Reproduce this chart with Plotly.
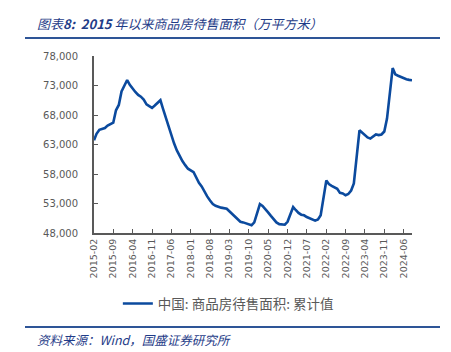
import plotly.graph_objects as go
import pandas as pd

# ---- data (万平方米), monthly, January not published ----
years = list(range(2015, 2025))
months_feb_dec = [2, 3, 4, 5, 6, 7, 8, 9, 10, 11, 12]
v2015 = [63700, 64800, 65500, 65700, 65800, 66200, 66400, 66700, 68800, 69700, 72000]
v2016 = [73930, 73100, 72400, 71900, 71400, 71100, 70600, 69800, 69500, 69200, 69600]
v2017 = [70500, 69100, 67600, 66000, 64400, 63200, 62000, 61000, 60200, 59500, 58900]
v2018 = [58300, 57300, 56500, 55900, 55000, 54200, 53500, 52900, 52600, 52400, 52300]
v2019 = [52100, 51700, 51300, 50800, 50300, 49900, 49800, 49600, 49400, 49300, 49800]
v2020 = [52900, 52600, 52100, 51500, 50900, 50300, 49800, 49500, 49400, 49400, 49900]
v2021 = [52400, 51900, 51400, 51100, 51000, 50700, 50500, 50200, 50100, 50300, 51000]
v2022 = [56900, 56300, 56000, 55800, 55500, 54800, 54700, 54400, 54600, 55200, 56400]
v2023 = [65400, 65000, 64600, 64200, 64000, 64300, 64700, 64600, 64700, 65200, 67400]
v2024 = [75950, 74900, 74650, 74450, 74200, 74050, 73950, 73900]

yearly = [v2015, v2016, v2017, v2018, v2019, v2020, v2021, v2022, v2023, v2024]

tick_labels = ["2015-02", "2015-09", "2016-04", "2016-11", "2017-06", "2018-01",
               "2018-08", "2019-03", "2019-10", "2020-05", "2020-12", "2021-07",
               "2022-02", "2022-09", "2023-04", "2023-11", "2024-06"]
y_ticks = [48000, 53000, 58000, 63000, 68000, 73000, 78000]

series_name = "中国: 商品房待售面积: 累计值"
title_prefix = "图表"
title_bold = "8:  2015"
title_rest = " 年以来商品房待售面积（万平方米）"
source_text = "资料来源：Wind，国盛证券研究所"

dates, values = [], []
for y, vals in zip(years, yearly):
    for m, v in zip(months_feb_dec, vals):
        dates.append(pd.Timestamp(year=y, month=m, day=1))
        values.append(v)

tick_vals = [pd.Timestamp(t + "-01") for t in tick_labels]

W, H = 451, 352
L, R, T, B = 94, 39, 56, 119

fig = go.Figure()
fig.add_trace(go.Scatter(
    x=dates, y=values, mode="lines", name=series_name,
    line=dict(color="#0B4A9E", width=2.6),
))

axis_col = "#595959"
fig.update_layout(
    width=W, height=H,
    margin=dict(l=L, r=R, t=T, b=B, pad=0),
    paper_bgcolor="white", plot_bgcolor="white",
    font=dict(family="DejaVu Sans", color=axis_col),
    showlegend=True,
    legend=dict(
        orientation="h", x=0.075, y=-0.40, xanchor="left", yanchor="middle",
        font=dict(family="Noto Sans CJK SC", size=13.5, color=axis_col),
        bgcolor="rgba(0,0,0,0)", itemwidth=30,
    ),
    xaxis=dict(
        type="date",
        range=[pd.Timestamp("2015-02-01"), pd.Timestamp("2024-09-01")],
        tickmode="array", tickvals=tick_vals, ticktext=tick_labels,
        tickangle=-90, ticks="inside", ticklen=4, tickwidth=1.2, tickcolor=axis_col,
        showline=True, linecolor=axis_col, linewidth=1.8,
        showgrid=False, zeroline=False,
        tickfont=dict(family="DejaVu Sans", size=9.5, color=axis_col),
    ),
    yaxis=dict(
        range=[48000, 78000], tickmode="array", tickvals=y_ticks,
        tickformat=",.0f",
        ticks="inside", ticklen=4, tickwidth=1.2, tickcolor=axis_col,
        showline=True, linecolor=axis_col, linewidth=1.8,
        showgrid=False, zeroline=False,
        tickfont=dict(family="DejaVu Sans", size=10, color=axis_col),
        ticklabelstandoff=12,
    ),
)

def px_x(x):
    return (x - L) / (W - L - R)

def px_y(y):
    return (H - B - y) / (H - T - B)

# title
fig.add_annotation(
    xref="paper", yref="paper", x=px_x(35), y=px_y(24),
    xanchor="left", yanchor="middle", showarrow=False,
    text="<i>" + title_prefix + "<b>" + title_bold + "</b>" + title_rest + "</i>",
    font=dict(family="Noto Sans CJK SC", size=13, color="#1F3C88"),
)
# source
fig.add_annotation(
    xref="paper", yref="paper", x=px_x(35), y=px_y(339),
    xanchor="left", yanchor="middle", showarrow=False,
    text="<i>" + source_text + "</i>",
    font=dict(family="Noto Sans CJK SC", size=12.5, color="#1F3C88"),
)
# separator lines
for yy in (38, 327):
    fig.add_shape(type="line", xref="paper", yref="paper",
                  x0=px_x(25), x1=px_x(440), y0=px_y(yy), y1=px_y(yy),
                  line=dict(color="#2E5597", width=2))

fig.write_html("out.html")
